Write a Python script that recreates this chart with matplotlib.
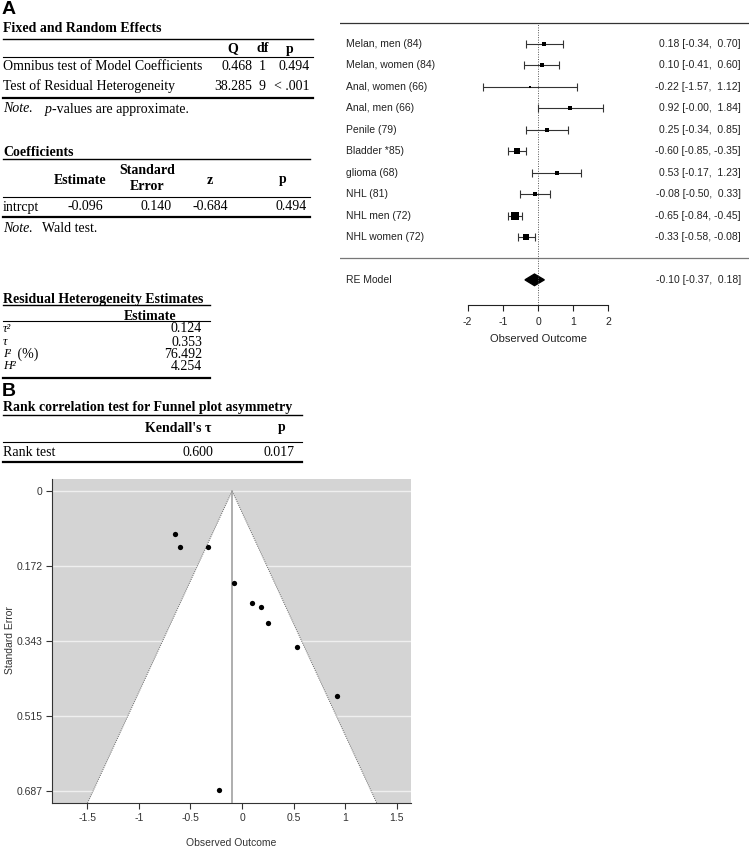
import matplotlib
matplotlib.use('Agg')
import matplotlib.pyplot as plt
from matplotlib.lines import Line2D
from matplotlib.patches import Polygon
import numpy as np

plt.rcParams['font.family'] = ['Liberation Sans', 'DejaVu Sans']

# ---------------- data ----------------
# Fixed and random effects table
fre_rows = ["Omnibus test of Model Coefficients", "Test of Residual Heterogeneity"]
fre_Q = ["0.468", "38.285"]
fre_df = ["1", "9"]
fre_p = ["0.494", "< .001"]

# Coefficients table
coef_terms = ["intrcpt"]
coef_est = ["-0.096"]
coef_se = ["0.140"]
coef_z = ["-0.684"]
coef_p = ["0.494"]

# Residual heterogeneity table
het_labels = ["τ²", "τ", "I²", "H²"]
het_suffix = ["", "", " (%)", ""]
het_values = ["0.124", "0.353", "76.492", "4.254"]

# Rank correlation table
rank_rows = ["Rank test"]
rank_tau = ["0.600"]
rank_p = ["0.017"]

# Forest plot
study_labels = ["Melan, men (84)", "Melan, women (84)", "Anal, women (66)", "Anal, men (66)",
                "Penile (79)", "Bladder *85)", "glioma (68)", "NHL (81)", "NHL men (72)",
                "NHL women (72)"]
est = [0.18, 0.10, -0.22, 0.92, 0.25, -0.60, 0.53, -0.08, -0.65, -0.33]
ci_lo = [-0.34, -0.41, -1.57, -0.0, -0.34, -0.85, -0.17, -0.50, -0.84, -0.58]
ci_hi = [0.70, 0.60, 1.12, 1.84, 0.85, -0.35, 1.23, 0.33, -0.45, -0.08]
re_label = "RE Model"
re_est, re_lo, re_hi = -0.10, -0.37, 0.18
forest_ticks = [-2, -1, 0, 1, 2]

# Funnel plot
funnel_center = -0.096
funnel_yticks = [0, 0.172, 0.343, 0.515, 0.687]
funnel_ylabels = ["0", "0.172", "0.343", "0.515", "0.687"]
funnel_xticks = [-1.5, -1, -0.5, 0, 0.5, 1, 1.5]
funnel_xlabels = ["-1.5", "-1", "-0.5", "0", "0.5", "1", "1.5"]

# ---------------- figure ----------------
W, H = 749, 850
fig = plt.figure(figsize=(W / 100, H / 100), dpi=100)

SERIF = ['Liberation Serif', 'DejaVu Serif']
TS = 10.0


def T(x, y, s, ha='left', bold=False, italic=False, size=TS, family=SERIF, **kw):
    fig.text(x / W, 1 - y / H, s, ha=ha, va='center', fontsize=size,
             fontweight='bold' if bold else 'normal',
             fontstyle='italic' if italic else 'normal', family=family, **kw)


def hline(x0, x1, y, lw, color='black'):
    fig.add_artist(Line2D([x0 / W, x1 / W], [1 - y / H, 1 - y / H],
                          transform=fig.transFigure, color=color, lw=lw))


# Panel labels
T(2, 10, "A", bold=True, size=14, family=['Liberation Sans', 'DejaVu Sans'])
T(2, 392, "B", bold=True, size=14, family=['Liberation Sans', 'DejaVu Sans'])

# Fixed and Random Effects
T(3, 29, "Fixed and Random Effects", bold=True)
hline(3, 313, 39, 1.0)
T(233, 49, "Q", ha='center', bold=True)
T(263, 49, "df", ha='center', bold=True)
T(290, 49, "p", ha='center', bold=True)
hline(3, 313, 57, 0.8)
for i, yy in enumerate([67, 86]):
    T(3, yy, fre_rows[i])
    T(252, yy, fre_Q[i], ha='right')
    T(262, yy, fre_df[i], ha='center')
    T(310, yy, fre_p[i], ha='right')
hline(3, 313, 98, 1.6)
T(3, 109, "Note.", italic=True)
T(45, 109, "p", italic=True)
T(52, 109, "-values are approximate.")

# Coefficients
T(3, 153, "Coefficients", bold=True)
hline(3, 310, 159, 1.0)
T(80, 180, "Estimate", ha='center', bold=True)
T(147, 171, "Standard", ha='center', bold=True)
T(147, 187, "Error", ha='center', bold=True)
T(210, 180, "z", ha='center', bold=True)
T(283, 180, "p", ha='center', bold=True)
hline(3, 310, 197, 0.8)
T(3, 207, coef_terms[0])
T(103, 207, coef_est[0], ha='right')
T(172, 207, coef_se[0], ha='right')
T(228, 207, coef_z[0], ha='right')
T(307, 207, coef_p[0], ha='right')
hline(3, 310, 217, 1.6)
T(3, 229, "Note.", italic=True)
T(42, 229, "Wald test.")

# Residual heterogeneity
T(3, 299, "Residual Heterogeneity Estimates", bold=True)
hline(3, 210, 305, 1.0)
T(150, 316, "Estimate", ha='center', bold=True)
hline(3, 210, 321, 0.8)
for i, yy in enumerate([329, 342, 354, 366]):
    T(3, yy, het_labels[i], italic=True, size=9)
    if het_suffix[i]:
        T(14, yy, het_suffix[i])
    T(202, yy, het_values[i], ha='right')
hline(3, 210, 378, 1.6)

# Rank correlation
T(3, 408, "Rank correlation test for Funnel plot asymmetry", bold=True)
hline(3, 302, 415, 1.0)
T(178, 428, "Kendall's τ", ha='center', bold=True)
T(282, 428, "p", ha='center', bold=True)
hline(3, 302, 442, 0.8)
T(3, 452, rank_rows[0])
T(213, 452, rank_tau[0], ha='right')
T(295, 452, rank_p[0], ha='right')
hline(3, 302, 462, 1.6)

# ---------------- forest plot ----------------
x0px, unit = 538.0, 35.2
axF = fig.add_axes([340 / W, 1 - 305 / H, 409 / W, 305 / H])
axF.set_xlim((340 - x0px) / unit, (749 - x0px) / unit)
k = len(est)
row_h = 21.44
axF.set_ylim(k - (305 - 44) / row_h, k + 44 / row_h)
axF.patch.set_alpha(0)
for s in ['top', 'right', 'left']:
    axF.spines[s].set_visible(False)
axF.spines['bottom'].set_bounds(forest_ticks[0], forest_ticks[-1])
axF.spines['bottom'].set_color('#222222')
axF.spines['bottom'].set_linewidth(0.8)
axF.set_xticks(forest_ticks)
axF.set_xticklabels([str(t) for t in forest_ticks])
axF.tick_params(axis='x', direction='out', length=4.5, width=0.8, labelsize=7.5,
                colors='#222222', pad=4)
axF.set_yticks([])

ys = np.arange(k, 0, -1)
est_a, lo_a, hi_a = np.array(est), np.array(ci_lo), np.array(ci_hi)
se = (hi_a - lo_a) / (2 * 1.96)
wi = 1 / se
ps = (wi - wi.min()) / (wi.max() - wi.min()) + 0.5

axF.axhline(k + 1, color='#333333', lw=0.9)
axF.axhline(0, color='#777777', lw=0.9)
axF.plot([0, 0], [axF.get_ylim()[0], k + 1], ls=(0, (1, 1.5)), color='#555555', lw=0.7)
axF.errorbar(est_a, ys, xerr=[est_a - lo_a, hi_a - est_a], fmt='none', ecolor='#333333',
             elinewidth=0.8, capsize=2.6, capthick=0.8)
for xi, yi, p in zip(est_a, ys, ps):
    axF.plot([xi], [yi], marker='s', color='black', markersize=3.9 * p, mew=0)
axF.add_patch(Polygon([[re_lo, -1], [re_est, -1 + 0.27], [re_hi, -1], [re_est, -1 - 0.27]],
                      closed=True, color='black'))

lab_tr = axF.get_yaxis_transform()
for yi, lab, e, l, h in zip(ys, study_labels, est, ci_lo, ci_hi):
    axF.text(0.014, yi, lab, transform=lab_tr, ha='left', va='center', fontsize=7.5, color='#222222')
    axF.text(0.98, yi, f"{e:.2f} [{l:5.2f}, {h:5.2f}]", transform=lab_tr, ha='right',
             va='center', fontsize=7.5, color='#222222')
axF.text(0.014, -1, re_label, transform=lab_tr, ha='left', va='center', fontsize=7.5, color='#222222')
axF.text(0.98, -1, f"{re_est:.2f} [{re_lo:5.2f}, {re_hi:5.2f}]", transform=lab_tr, ha='right',
         va='center', fontsize=7.5, color='#222222')
fig.text(538 / W, 1 - 339 / H, "Observed Outcome", ha='center', va='center', fontsize=8, color='#222222')

# ---------------- funnel plot ----------------
axP = fig.add_axes([52 / W, 1 - 803 / H, 359 / W, 324 / H])
ybot, ytop = 0.7155, -0.0275
axP.set_xlim(-1.843, 1.639)
axP.set_ylim(ybot, ytop)
axP.set_facecolor('#D4D4D4')
for yt in funnel_yticks:
    axP.axhline(yt, color='#EFEFEF', lw=1.0, zorder=1)
fl = funnel_center - 1.96 * ybot
fr = funnel_center + 1.96 * ybot
axP.add_patch(Polygon([[funnel_center, 0], [fl, ybot], [fr, ybot]], closed=True,
                      facecolor='white', edgecolor='none', zorder=2))
axP.plot([fl, funnel_center, fr], [ybot, 0, ybot], ls=(0, (1, 1.2)), color='#666666', lw=0.7, zorder=3)
axP.plot([funnel_center, funnel_center], [0, ybot], color='#999999', lw=1.1, zorder=3)
axP.plot(est_a, se, 'o', color='black', markersize=3.8, mew=0, zorder=4)
for s in ['top', 'right']:
    axP.spines[s].set_visible(False)
for s in ['left', 'bottom']:
    axP.spines[s].set_color('#333333')
    axP.spines[s].set_linewidth(0.8)
axP.set_yticks(funnel_yticks)
axP.set_yticklabels(funnel_ylabels)
axP.set_xticks(funnel_xticks)
axP.set_xticklabels(funnel_xlabels)
axP.tick_params(direction='out', length=4, width=0.8, labelsize=7.5, colors='#333333', pad=3)
fig.text(10 / W, 1 - 640 / H, "Standard Error", rotation=90, ha='center', va='center',
         fontsize=7.5, color='#333333')
fig.text(231 / W, 1 - 843 / H, "Observed Outcome", ha='center', va='center', fontsize=7.5,
         color='#333333')

fig.savefig('out.png', dpi=100)
